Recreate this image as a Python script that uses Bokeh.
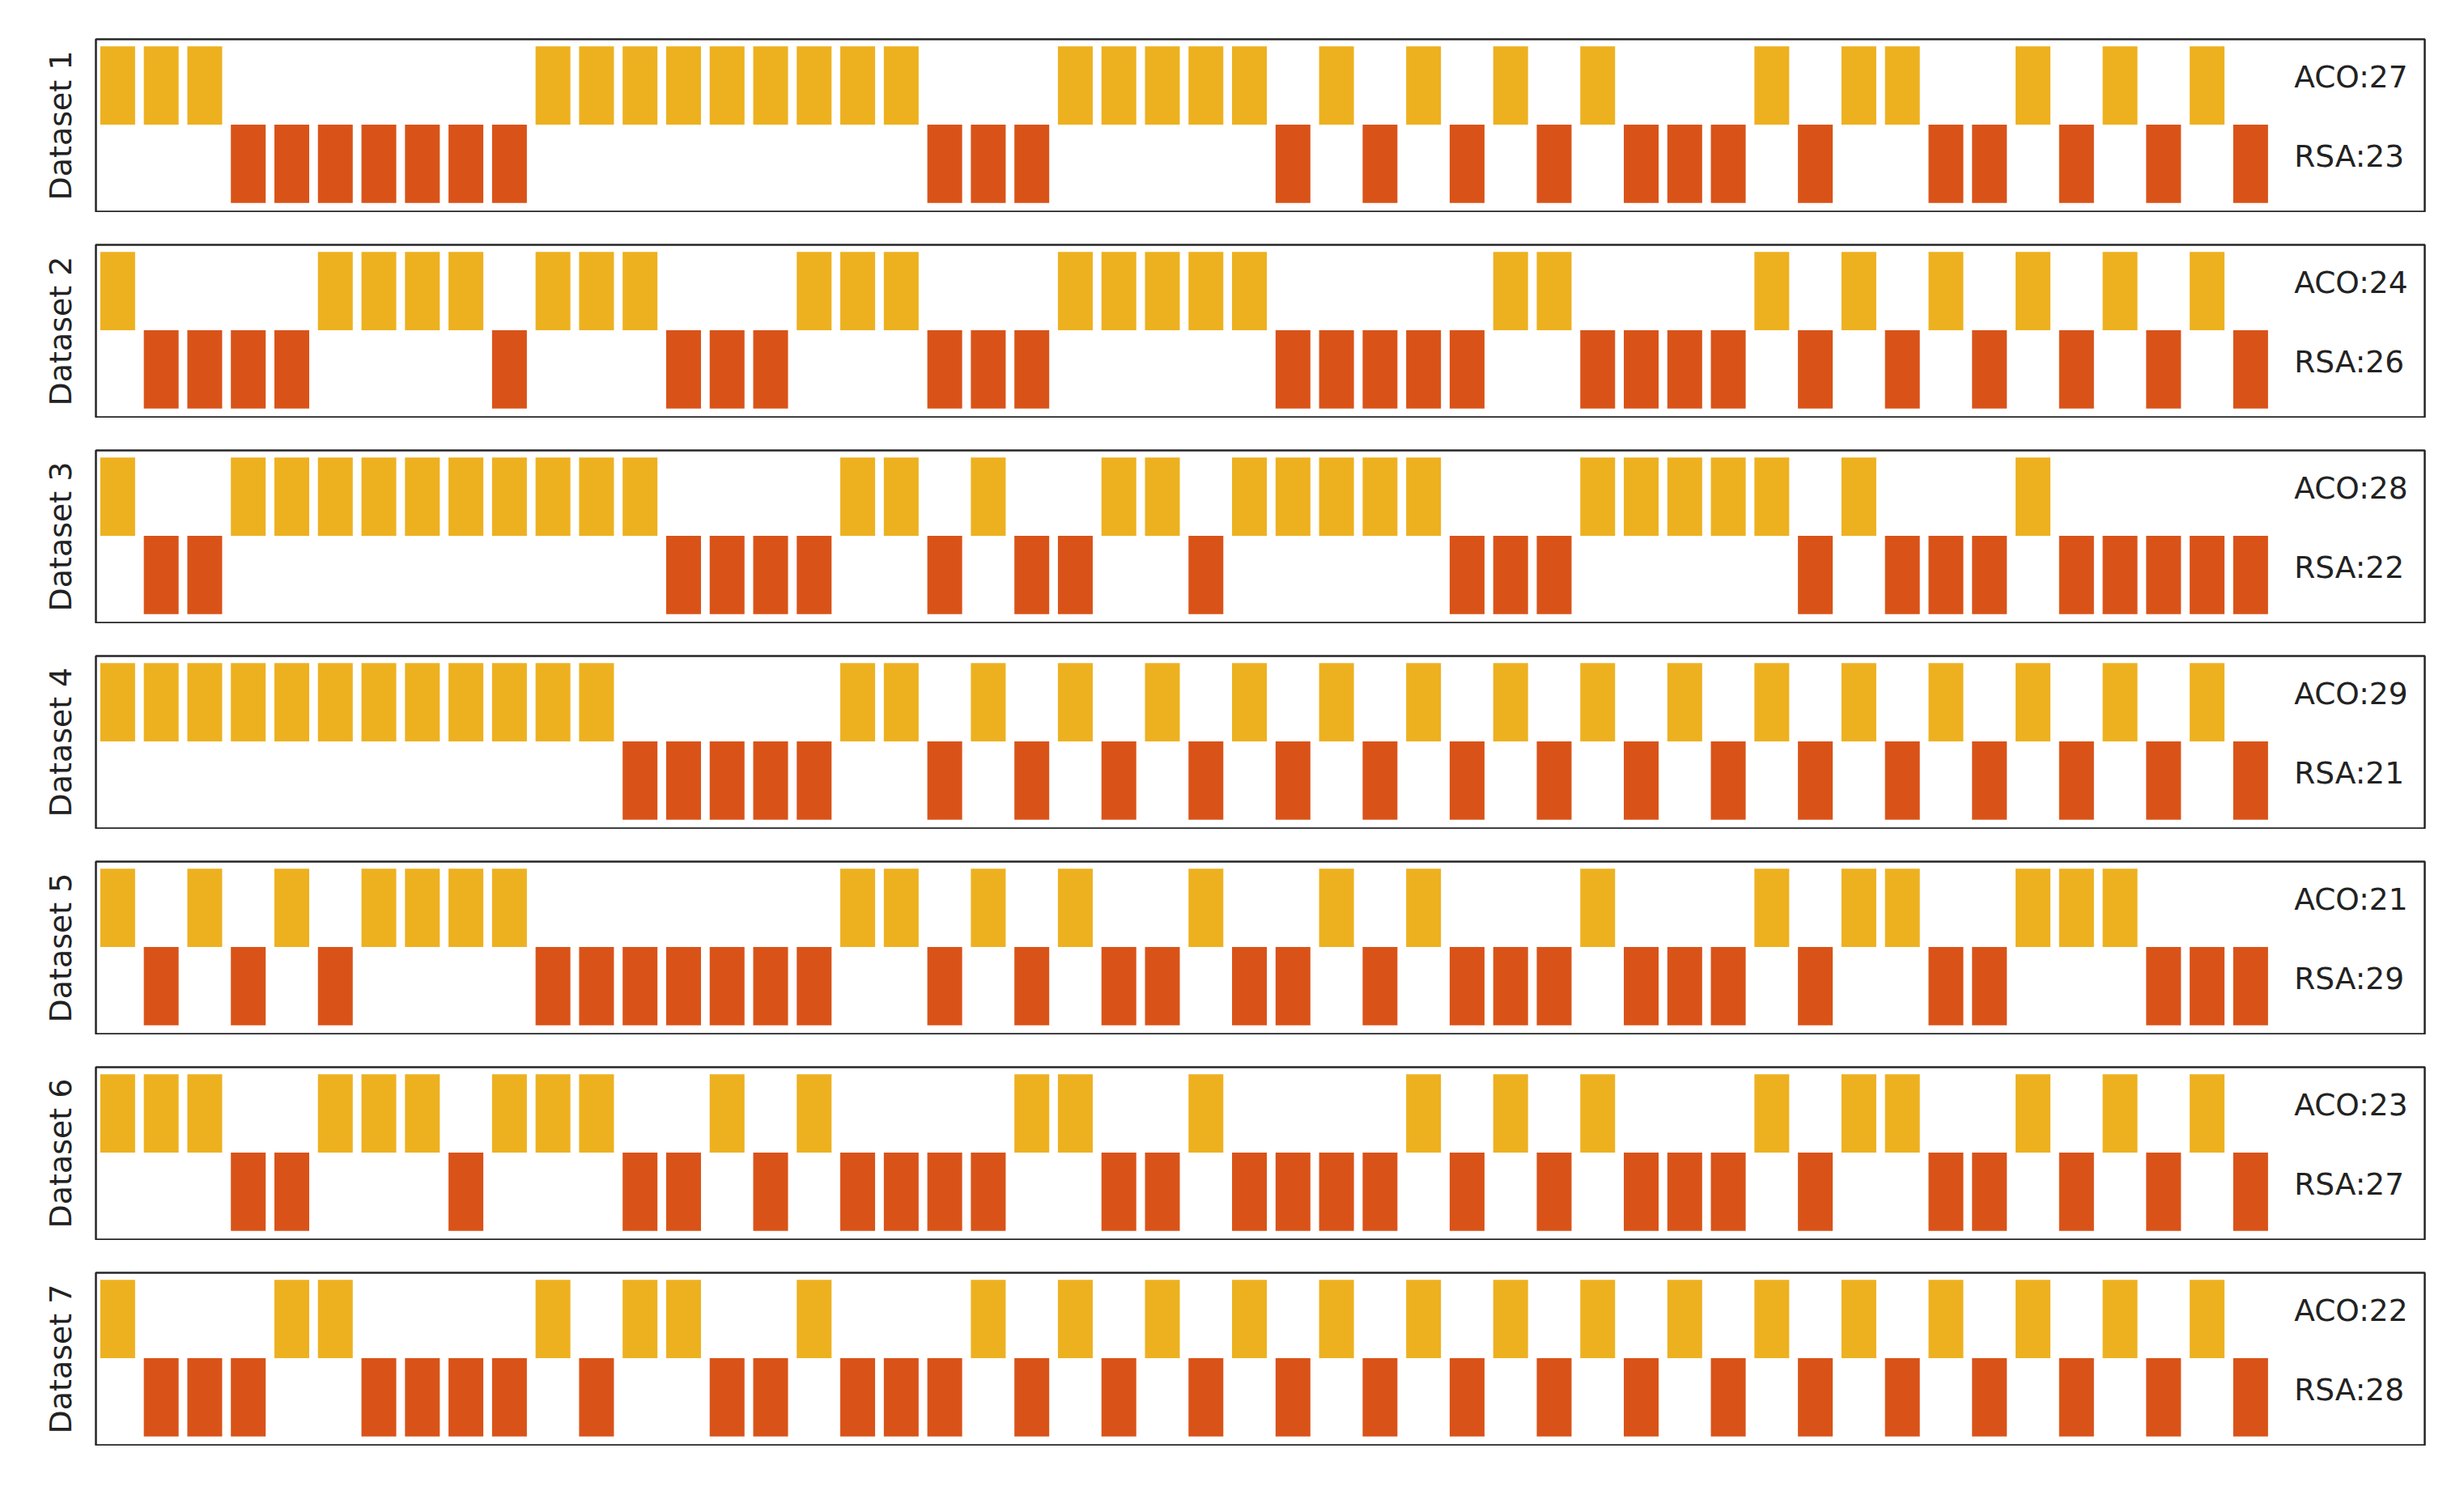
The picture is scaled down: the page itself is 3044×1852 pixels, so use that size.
from bokeh.plotting import figure
from bokeh.layouts import column
from bokeh.models import Range1d, FixedTicker
from bokeh.embed import file_html
from bokeh.resources import INLINE
from bokeh.core.properties import value

# 1 = ACO chosen at this position, 0 = RSA chosen
dataset_names = ["Dataset 1", "Dataset 2", "Dataset 3", "Dataset 4",
                 "Dataset 5", "Dataset 6", "Dataset 7"]

ds1 = [1, 1, 1, 0, 0, 0, 0, 0, 0, 0,
       1, 1, 1, 1, 1, 1, 1, 1, 1, 0,
       0, 0, 1, 1, 1, 1, 1, 0, 1, 0,
       1, 0, 1, 0, 1, 0, 0, 0, 1, 0,
       1, 1, 0, 0, 1, 0, 1, 0, 1, 0]
ds2 = [1, 0, 0, 0, 0, 1, 1, 1, 1, 0,
       1, 1, 1, 0, 0, 0, 1, 1, 1, 0,
       0, 0, 1, 1, 1, 1, 1, 0, 0, 0,
       0, 0, 1, 1, 0, 0, 0, 0, 1, 0,
       1, 0, 1, 0, 1, 0, 1, 0, 1, 0]
ds3 = [1, 0, 0, 1, 1, 1, 1, 1, 1, 1,
       1, 1, 1, 0, 0, 0, 0, 1, 1, 0,
       1, 0, 0, 1, 1, 0, 1, 1, 1, 1,
       1, 0, 0, 0, 1, 1, 1, 1, 1, 0,
       1, 0, 0, 0, 1, 0, 0, 0, 0, 0]
ds4 = [1, 1, 1, 1, 1, 1, 1, 1, 1, 1,
       1, 1, 0, 0, 0, 0, 0, 1, 1, 0,
       1, 0, 1, 0, 1, 0, 1, 0, 1, 0,
       1, 0, 1, 0, 1, 0, 1, 0, 1, 0,
       1, 0, 1, 0, 1, 0, 1, 0, 1, 0]
ds5 = [1, 0, 1, 0, 1, 0, 1, 1, 1, 1,
       0, 0, 0, 0, 0, 0, 0, 1, 1, 0,
       1, 0, 1, 0, 0, 1, 0, 0, 1, 0,
       1, 0, 0, 0, 1, 0, 0, 0, 1, 0,
       1, 1, 0, 0, 1, 1, 1, 0, 0, 0]
ds6 = [1, 1, 1, 0, 0, 1, 1, 1, 0, 1,
       1, 1, 0, 0, 1, 0, 1, 0, 0, 0,
       0, 1, 1, 0, 0, 1, 0, 0, 0, 0,
       1, 0, 1, 0, 1, 0, 0, 0, 1, 0,
       1, 1, 0, 0, 1, 0, 1, 0, 1, 0]
ds7 = [1, 0, 0, 0, 1, 1, 0, 0, 0, 0,
       1, 0, 1, 1, 0, 0, 1, 0, 0, 0,
       1, 0, 1, 0, 1, 0, 1, 0, 1, 0,
       1, 0, 1, 0, 1, 0, 1, 0, 1, 0,
       1, 0, 1, 0, 1, 0, 1, 0, 1, 0]

datasets = [ds1, ds2, ds3, ds4, ds5, ds6, ds7]

ACO_COLOR = "#EDB120"
RSA_COLOR = "#D95319"
TEXT_COLOR = "#222222"
FONT = "DejaVu Sans"

figs = []
for k, (name, seq) in enumerate(zip(dataset_names, datasets)):
    top_border = 48 if k == 0 else 40
    p = figure(width=3005, height=254 + (top_border - 40), output_backend="svg",
               toolbar_location=None,
               x_range=Range1d(-0.5, 53.0), y_range=Range1d(-0.11, 2.09),
               min_border_left=118, min_border_right=10,
               min_border_top=top_border, min_border_bottom=1)
    aco_x = [i for i, v in enumerate(seq) if v == 1]
    rsa_x = [i for i, v in enumerate(seq) if v == 0]
    p.vbar(x=aco_x, bottom=1, top=2, width=0.8,
           fill_color=ACO_COLOR, line_color=None)
    p.vbar(x=rsa_x, bottom=0, top=1, width=0.8,
           fill_color=RSA_COLOR, line_color=None)
    p.text(x=[50, 50], y=[1.61, 0.60],
           text=[f"ACO:{len(aco_x)}", f"RSA:{len(rsa_x)}"],
           text_font=value(FONT), text_font_size="37.5px",
           text_align="left", text_baseline="alphabetic",
           text_color=TEXT_COLOR)
    p.xaxis.visible = False
    p.yaxis.ticker = FixedTicker(ticks=[])
    p.yaxis.axis_label = name
    p.yaxis.axis_label_text_font = FONT
    p.yaxis.axis_label_text_font_size = "38px"
    p.yaxis.axis_label_text_font_style = "normal"
    p.yaxis.axis_label_text_color = TEXT_COLOR
    p.yaxis.axis_line_color = None
    p.yaxis.major_tick_line_color = None
    p.yaxis.minor_tick_line_color = None
    p.yaxis.axis_label_standoff = 22
    p.grid.visible = False
    p.outline_line_color = "#262626"
    p.outline_line_width = 2.5
    p.background_fill_color = "white"
    p.border_fill_color = "white"
    figs.append(p)

layout = column(*figs, spacing=0)
open("out.html", "w").write(file_html(layout, INLINE))
